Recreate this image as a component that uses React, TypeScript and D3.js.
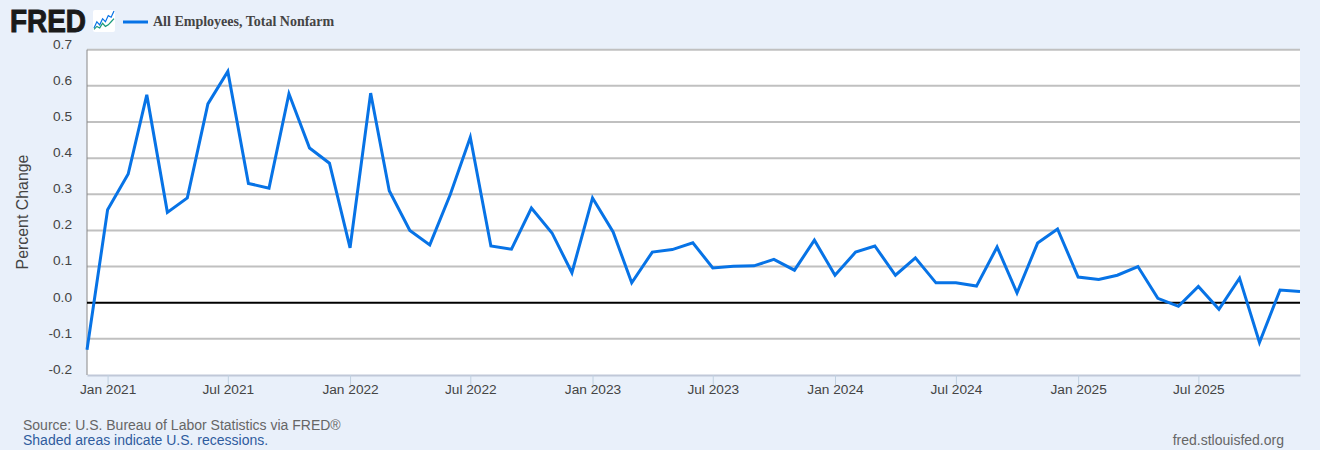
import React, { useRef, useEffect } from 'react';
import * as d3 from 'd3';

const startMonth = [2020, 11];
const values = [
  -0.13, 0.257, 0.356, 0.575, 0.25, 0.29, 0.55, 0.64, 0.33, 0.317, 0.578, 0.428,
  0.386, 0.152, 0.58, 0.31, 0.2, 0.16, 0.3, 0.458, 0.157, 0.148, 0.262, 0.193,
  0.083, 0.29, 0.196, 0.055, 0.14, 0.147, 0.166, 0.096, 0.101, 0.102, 0.12, 0.09,
  0.173, 0.076, 0.14, 0.157, 0.076, 0.124, 0.055, 0.055, 0.046, 0.154, 0.027, 0.165,
  0.204, 0.071, 0.064, 0.076, 0.1, 0.012, -0.01, 0.045, -0.018, 0.068, -0.11, 0.035,
  0.031,
];
const yTicks = [-0.2, -0.1, 0, 0.1, 0.2, 0.3, 0.4, 0.5, 0.6, 0.7];
const xTickDates = [
  [2021, 0], [2021, 6], [2022, 0], [2022, 6], [2023, 0], [2023, 6],
  [2024, 0], [2024, 6], [2025, 0], [2025, 6],
];
const iconBlue = [2, 6, 4, 8, 6, 10, 9, 13];
const iconGreen = [1, 3, 2, 5, 3, 4, 6, 8];

const WIDTH = 1320;
const HEIGHT = 450;
const LEFT = 87;
const RIGHT = 1300;
const TOP = 49.7;
const BOTTOM = 375;
const SANS = '"Liberation Sans", Arial, sans-serif';

const months = values.map((_, i) => new Date(startMonth[0], startMonth[1] + i, 1));

export default function App() {
  const ref = useRef<SVGSVGElement>(null);

  useEffect(() => {
    if (ref.current) draw(ref.current);
  }, []);

  return (
    <svg
      ref={ref}
      width={WIDTH}
      height={HEIGHT}
      style={{ position: 'absolute', left: 0, top: 0, background: '#e9f0fa' }}
    />
  );
}

const draw = (node: SVGSVGElement) => {
  const svg = d3.select(node);
  svg.selectAll('*').remove();

  const x = d3.scaleTime().domain([months[0], months[months.length - 1]]).range([LEFT, RIGHT]);
  const y = d3.scaleLinear().domain([-0.2, 0.7]).range([BOTTOM, TOP]);

  svg.append('rect')
    .attr('x', LEFT).attr('y', TOP)
    .attr('width', RIGHT - LEFT).attr('height', BOTTOM - TOP)
    .attr('fill', '#ffffff');

  // grid, labels come from the axis
  const yAxis = svg.append('g')
    .attr('transform', `translate(${LEFT},-6)`)
    .call(
      d3.axisLeft(y)
        .tickValues(yTicks)
        .tickSize(0)
        .tickPadding(15)
        .tickFormat((d) => d3.format('.1f')(d as number).replace('−', '-'))
    );
  yAxis.select('.domain').remove();
  yAxis.selectAll('text')
    .attr('font-family', SANS)
    .attr('font-size', 13.7)
    .attr('fill', '#444444');

  svg.append('g')
    .selectAll('line')
    .data(yTicks.filter((t) => t !== -0.2 && t !== 0))
    .join('line')
    .attr('x1', LEFT).attr('x2', RIGHT)
    .attr('y1', (d) => y(d)).attr('y2', (d) => y(d))
    .attr('stroke', '#c0c0c0')
    .attr('stroke-width', 2);

  const xAxis = svg.append('g')
    .attr('transform', `translate(0,${BOTTOM})`)
    .call(
      d3.axisBottom(x)
        .tickValues(xTickDates.map((d) => new Date(d[0], d[1], 1)))
        .tickSizeInner(10)
        .tickSizeOuter(0)
        .tickPadding(-1)
        .tickFormat(d3.timeFormat('%b %Y') as any)
    );
  xAxis.select('.domain').attr('stroke', '#c0c8d8').attr('stroke-width', 2);
  xAxis.selectAll('.tick line').attr('stroke', '#c0d0e0');
  xAxis.selectAll('text')
    .attr('font-family', SANS)
    .attr('font-size', 13.7)
    .attr('fill', '#444444');

  svg.append('line')
    .attr('x1', LEFT).attr('x2', LEFT)
    .attr('y1', TOP).attr('y2', BOTTOM)
    .attr('stroke', '#888888');

  svg.append('line')
    .attr('x1', LEFT).attr('x2', RIGHT)
    .attr('y1', y(0)).attr('y2', y(0))
    .attr('stroke', '#000000')
    .attr('stroke-width', 2);

  const line = d3.line<number>()
    .x((_, i) => x(months[i]))
    .y((d) => y(d));

  svg.append('path')
    .attr('d', line(values))
    .attr('fill', 'none')
    .attr('stroke', '#0773e6')
    .attr('stroke-width', 3)
    .attr('stroke-linejoin', 'miter');

  svg.append('text')
    .attr('transform', 'translate(28,212) rotate(-90)')
    .attr('text-anchor', 'middle')
    .attr('font-family', SANS)
    .attr('font-size', 15.9)
    .attr('fill', '#444444')
    .text('Percent Change');

  // header: logo, icon, legend
  svg.append('text')
    .attr('x', 10).attr('y', 32)
    .attr('font-family', SANS)
    .attr('font-weight', 700)
    .attr('font-size', 30.5)
    .attr('textLength', 76)
    .attr('lengthAdjust', 'spacingAndGlyphs')
    .attr('stroke', '#1a1a1a')
    .attr('stroke-width', 1)
    .attr('fill', '#1a1a1a')
    .text('FRED');

  const icon = svg.append('g').attr('transform', 'translate(93,10)');
  icon.append('rect')
    .attr('width', 22).attr('height', 22).attr('rx', 2)
    .attr('fill', '#ffffff');
  const iconX = d3.scaleLinear().domain([0, iconBlue.length - 1]).range([1, 21]);
  const iconY = d3.scaleLinear().domain([0, 13]).range([21, 1]);
  const iconLine = d3.line<number>().x((_, i) => iconX(i)).y((d) => iconY(d));
  icon.append('path').attr('d', iconLine(iconBlue))
    .attr('fill', 'none').attr('stroke', '#0773e6').attr('stroke-width', 1.2);
  icon.append('path').attr('d', iconLine(iconGreen))
    .attr('fill', 'none').attr('stroke', '#1a9a7a').attr('stroke-width', 1.2);

  svg.append('line')
    .attr('x1', 123).attr('x2', 148)
    .attr('y1', 22).attr('y2', 22)
    .attr('stroke', '#0773e6')
    .attr('stroke-width', 3);

  svg.append('text')
    .attr('x', 153).attr('y', 26)
    .attr('font-family', '"Liberation Serif", "Times New Roman", serif')
    .attr('font-weight', 700)
    .attr('font-size', 14)
    .attr('fill', '#444444')
    .text('All Employees, Total Nonfarm');

  // footer
  svg.append('text')
    .attr('x', 23).attr('y', 430)
    .attr('font-family', SANS).attr('font-size', 14)
    .attr('fill', '#666666')
    .text('Source: U.S. Bureau of Labor Statistics via FRED®');

  svg.append('text')
    .attr('x', 23).attr('y', 445)
    .attr('font-family', SANS).attr('font-size', 14)
    .attr('fill', '#2f5c9e')
    .text('Shaded areas indicate U.S. recessions.');

  svg.append('text')
    .attr('x', 1284).attr('y', 445)
    .attr('text-anchor', 'end')
    .attr('font-family', SANS).attr('font-size', 14)
    .attr('fill', '#666666')
    .text('fred.stlouisfed.org');
};
